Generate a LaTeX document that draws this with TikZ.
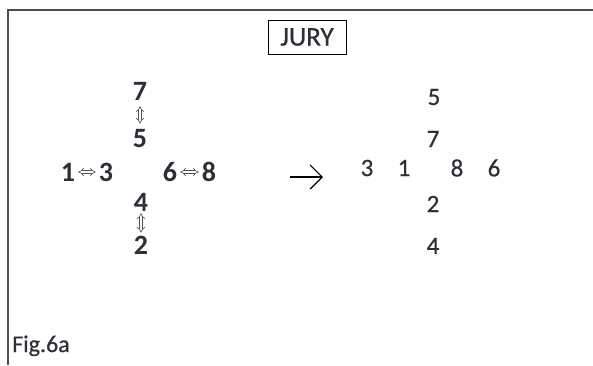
\documentclass[tikz,border=0pt]{standalone}
\usepackage{fontspec}
\setmainfont{Carlito}
\newfontfamily\juryfont[FakeBold=0.6]{Carlito}
\usetikzlibrary{arrows.meta,positioning}
\definecolor{juryInk}{HTML}{2E3038}
\definecolor{juryFrame}{HTML}{4D4D4D}
\tikzset{
  digL/.style={font=\fontsize{28}{28}\selectfont\bfseries,text=juryInk,inner sep=0pt},
  digR/.style={font=\juryfont\fontsize{25}{25}\selectfont,text=juryInk,inner sep=0pt},
  swaparrow/.style={draw=juryInk!85,line width=0.6pt,double=white,double distance=2.4pt,
                    {Implies}-{Implies}},
}

\begin{document}
\begin{tikzpicture}[x=1pt,y=-1pt]
  \useasboundingbox (0,0) rectangle (593,365);
  % frame (only top and left edges are visible)
  \draw[juryFrame,line width=1.8pt] (8,365) |- (593,10);
  \node[draw=black,line width=0.9pt,minimum width=78pt,minimum height=34pt,inner sep=0pt,
        font=\juryfont\fontsize{27}{27}\selectfont,text=juryInk] (jury) at (307,37) {JURY};

  % left cross
  \node[digL] (l7) at (140,91) {7};
  \node[digL] (l5) at (140,139) {5};
  \node[digL] (l1) at (68,172) {1};
  \node[digL] (l3) at (106,172) {3};
  \node[digL] (l6) at (170,172) {6};
  \node[digL] (l8) at (209,172) {8};
  \node[digL] (l4) at (141,202) {4};
  \node[digL] (l2) at (141,245) {2};
  \draw[swaparrow,shorten <=6pt,shorten >=6pt] (l7) -- (l5);
  \draw[swaparrow,shorten <=3pt,shorten >=3pt] (l1) -- (l3);
  \draw[swaparrow,shorten <=3pt,shorten >=3pt] (l6) -- (l8);
  \draw[swaparrow,shorten <=2pt,shorten >=3pt] (l4) -- (l2);

  % arrow
  \coordinate (arrS) at (290,177);
  \coordinate (arrE) at (323,177);
  \draw[black,line width=1.2pt,-{Straight Barb[length=12pt,width=24pt]}] (arrS) -- (arrE);

  % right cross
  \node[digR] (r5) at (434,97) {5};
  \node[digR] (r7) at (433,139) {7};
  \node[digR] (r3) at (367,168) {3};
  \node[digR] (r1) at (404,168) {1};
  \node[digR] (r8) at (457,168) {8};
  \node[digR] (r6) at (494,168) {6};
  \node[digR] (r2) at (433,204) {2};
  \node[digR] (r4) at (433,246) {4};

  \node[font=\juryfont\fontsize{24}{24}\selectfont,text=juryInk,anchor=base west,inner sep=0pt]
    (fig) at (12,352) {Fig.6a};
\end{tikzpicture}
\end{document}
